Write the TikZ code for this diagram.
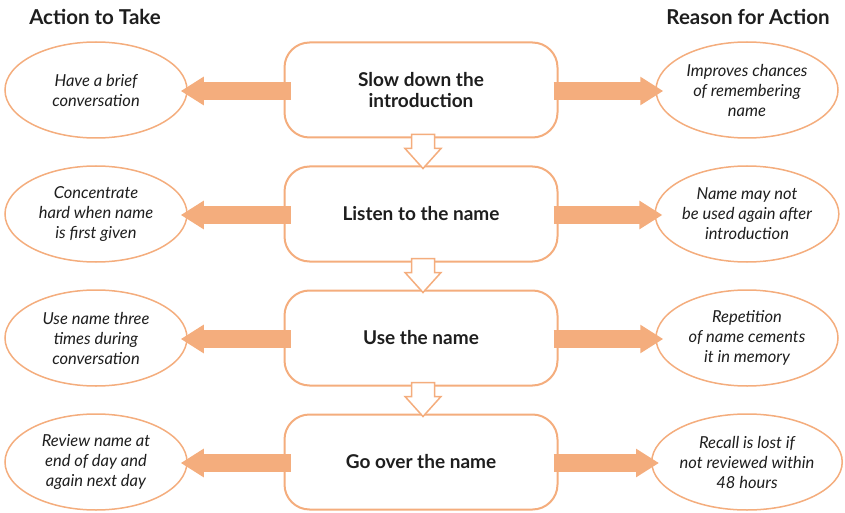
\documentclass[tikz,border=0pt]{standalone}
\usepackage{fontspec}
\setmainfont{Lato}
\usetikzlibrary{shapes.geometric,arrows.meta,calc}
\definecolor{peach}{RGB}{244,173,125}
\definecolor{txt}{RGB}{30,30,30}
\tikzset{
  stepbox/.style={draw=peach, line width=2pt, rounded corners=25pt, fill=white,
    minimum width=273pt, minimum height=95pt, align=center, text=txt,
    font=\fontsize{19}{21}\selectfont\bfseries},
  oval/.style={draw=peach, line width=1.5pt, ellipse, fill=white, inner sep=0pt,
    minimum width=182pt, minimum height=96pt, align=center, text=txt,
    font=\fontsize{16.5}{20}\selectfont\itshape},
  fat/.style={peach, line width=18pt,
    -{Triangle[length=23pt,width=27pt]}},
  hollow/.style={draw=peach, line width=1.5pt, fill=white, line join=miter},
  head/.style={font=\fontsize{20.5}{22}\selectfont\bfseries, text=txt}
}
\begin{document}
\begin{tikzpicture}[x=1pt,y=-1pt]
\useasboundingbox (0,0) rectangle (845,513);
\node[head] (h1) at (95,17) {Action to Take};
\node[head] (h2) at (748,17) {Reason for Action};

\node[stepbox] (b1) at (421,90) {Slow down the\\introduction};
\node[stepbox] (b2) at (421,214) {Listen to the name};
\node[stepbox] (b3) at (421,338) {Use the name};
\node[stepbox] (b4) at (421,462) {Go over the name};

\node[oval] (l1) at (96,90) {Have a brief\\conversation};
\node[oval] (l2) at (96,214) {Concentrate\\hard when name\\is first given};
\node[oval] (l3) at (96,338) {Use name three\\times during\\conversation};
\node[oval] (l4) at (96,462) {Review name at\\end of day and\\again next day};

\node[oval] (r1) at (747,90) {Improves chances\\of remembering\\name};
\node[oval] (r2) at (747,214) {Name may not\\be used again after\\introduction};
\node[oval] (r3) at (747,338) {Repetition\\of name cements\\it in memory};
\node[oval] (r4) at (747,462) {Recall is lost if\\not reviewed within\\48 hours};

\foreach \i in {1,2,3,4}{
  \draw[fat] ($(b\i.west)+(7,1)$) -- ($(l\i.east)+(-7,1)$);
  \draw[fat] ($(b\i.east)+(-5,1)$) -- ($(r\i.west)+(8,1)$);
}

\foreach \a/\b in {1/2,2/3,3/4}{
  \coordinate (t\a) at ($(b\a.south)+(2,-4)$);
  \coordinate (p\a) at ($(b\b.north)+(2,3)$);
  \draw[hollow] ($(t\a)+(-11.5,0)$) -- ($(t\a)+(11.5,0)$) -- ($(t\a)+(11.5,14)$)
    -- ($(t\a)+(18,14)$) -- (p\a) -- ($(t\a)+(-18,14)$) -- ($(t\a)+(-11.5,14)$) -- cycle;
}
\end{tikzpicture}
\end{document}
